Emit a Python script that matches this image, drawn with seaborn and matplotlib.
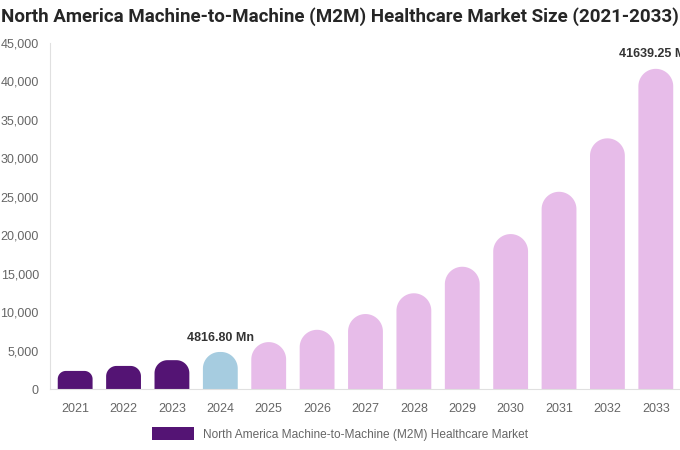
import numpy as np
import pandas as pd
import seaborn as sns
import matplotlib.pyplot as plt
from matplotlib.path import Path
from matplotlib.patches import PathPatch, Patch

years = [str(y) for y in range(2021, 2034)]
market_size = [2350, 3000, 3750, 4816.80, 6100, 7700, 9750, 12450, 15900, 20150, 25650, 32600, 41639.25]
period = ["hist", "hist", "hist", "base"] + ["fcst"] * 9
palette = {"hist": "#541474", "base": "#A6CCE0", "fcst": "#E7BCE9"}
labelled = {"2024": "4816.80 Mn", "2033": "41639.25 Mn"}
y_ticks = [0, 5000, 10000, 15000, 20000, 25000, 30000, 35000, 40000, 45000]

df = pd.DataFrame({"year": years, "size": market_size, "period": period})

sns.set_style("white")
plt.rcParams['font.family'] = ['Liberation Sans', 'DejaVu Sans']

fig = plt.figure(figsize=(6.8, 4.5), dpi=100)
ax = fig.add_axes([50 / 680, 61 / 450, 630 / 680, 346 / 450])

sns.barplot(data=df, x="year", y="size", hue="period", palette=palette,
            dodge=False, width=0.72, saturation=1, legend=False, ax=ax)
ax.set_xlim(-0.52, 12.5)
ax.set_ylim(0, 45000)

# swap the square bars for ones with rounded tops
fig.canvas.draw()
px_x = ax.transData.transform([(1, 0)])[0][0] - ax.transData.transform([(0, 0)])[0][0]
px_y = ax.transData.transform([(0, 1000)])[0][1] - ax.transData.transform([(0, 0)])[0][1]
for bar in list(ax.patches):
    x0, w, h = bar.get_x(), bar.get_width(), bar.get_height()
    if h <= 0:
        continue
    h_px = h * px_y / 1000
    r_px = min(w * px_x / 2, h_px * 0.45)
    rx = r_px / px_x
    ry = r_px / px_y * 1000
    t = np.linspace(0, np.pi / 2, 20)
    left = [(x0 + rx - rx * np.cos(a), h - ry + ry * np.sin(a)) for a in t]
    right = [(x0 + w - rx + rx * np.sin(a), h - ry + ry * np.cos(a)) for a in t]
    verts = [(x0, 0)] + left + right + [(x0 + w, 0), (x0, 0)]
    codes = [Path.MOVETO] + [Path.LINETO] * (len(verts) - 2) + [Path.CLOSEPOLY]
    ax.add_patch(PathPatch(Path(verts, codes), facecolor=bar.get_facecolor(),
                           edgecolor="none", clip_on=False))
    bar.set_visible(False)

for i, yr in enumerate(years):
    if yr in labelled:
        ax.text(i, market_size[i] + 1100, labelled[yr], ha="center", va="bottom",
                fontsize=9, fontweight="bold", color="#333333", clip_on=False)

ax.set_yticks(y_ticks)
ax.set_yticklabels([f"{v:,}" for v in y_ticks])
ax.tick_params(axis="both", length=0, labelsize=9, colors="#666666")
ax.tick_params(axis="x", pad=10)
ax.tick_params(axis="y", pad=8)
ax.set_xlabel("")
ax.set_ylabel("")
for s in ["top", "right"]:
    ax.spines[s].set_visible(False)
for s in ["left", "bottom"]:
    ax.spines[s].set_color("#E0E0E0")
    ax.spines[s].set_linewidth(0.8)

fig.suptitle("North America Machine-to-Machine (M2M) Healthcare Market Size (2021-2033)",
             x=0.5, y=0.985, fontsize=13.5, fontweight="bold", family=["Roboto", "DejaVu Sans"])

handle = Patch(facecolor=palette["hist"], edgecolor="none")
fig.legend([handle], ["North America Machine-to-Machine (M2M) Healthcare Market"],
           loc="center", bbox_to_anchor=(0.5, 1 - 434 / 450), frameon=False,
           fontsize=8.6, labelcolor="#666666", handlelength=3.5, handleheight=1.2,
           handletextpad=0.7)

fig.savefig("out.png", dpi=100)
